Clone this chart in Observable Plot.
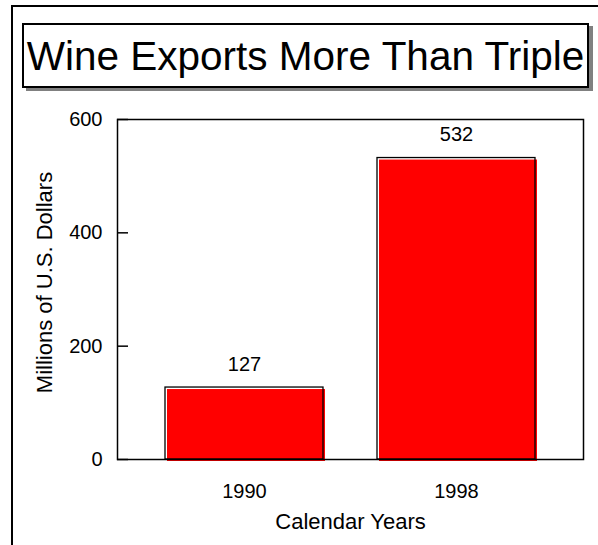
<!DOCTYPE html>
<html>
<head>
<meta charset="utf-8">
<script src="https://cdn.jsdelivr.net/npm/d3@7"></script>
<script src="https://cdn.jsdelivr.net/npm/@observablehq/plot@0.6"></script>
<style>
  html, body { margin: 0; padding: 0; background: #ffffff; }
  #wrap { position: relative; width: 598px; height: 545px; overflow: hidden; background: #fff; font-family: "Liberation Sans", Arial, sans-serif; }
  #outer { position: absolute; left: 11px; top: 5px; right: -10px; bottom: -10px; border-left: 2px solid #000; border-top: 2px solid #000; }
  #title { position: absolute; left: 22px; top: 23px; width: 567px; height: 65px; box-sizing: border-box; border: 2px solid #000; background: #fff; box-shadow: 4px 3px 0 #808080; text-align: center; white-space: nowrap; font-size: 40.5px; line-height: 62px; color: #000; margin: 0; font-weight: normal; }
  #chart { position: absolute; left: 0; top: 100px; }
</style>
</head>
<body>
<div id="wrap">
  <div id="outer"></div>
  <h1 id="title"></h1>
  <div id="chart"></div>
</div>
<script>
const years = ["1990", "1998"];
const values = [127, 532];
const yTicks = [0, 200, 400, 600];
const titleText = "Wine Exports More Than Triple";
const xLabel = "Calendar Years";
const yLabel = "Millions of U.S. Dollars";

const data = years.map((year, i) => ({year, value: values[i]}));

document.getElementById("title").textContent = titleText;

const chart = Plot.plot({
  width: 598,
  height: 445,
  marginLeft: 117,
  marginRight: 15,
  marginTop: 19,
  marginBottom: 86,
  style: {fontFamily: "'Liberation Sans', Arial, sans-serif", fontSize: "20px", color: "#000", background: "transparent", overflow: "visible"},
  x: {domain: years, paddingInner: 0.256, paddingOuter: 0.2245, label: null},
  y: {domain: [0, 600], label: null},
  marks: [
    Plot.barY(data, {x: "year", y: "value", fill: "#ff0000", dx: 2, dy: 2}),
    Plot.barY(data, {x: "year", y: "value", fill: "none", stroke: "#000", strokeWidth: 1.3}),
    Plot.frame({stroke: "#000", strokeWidth: 1.5}),
    Plot.tickY(yTicks, {y: d => d, stroke: "#000", strokeWidth: 1.5, insetRight: 455}),
    Plot.axisY({ticks: yTicks, tickSize: 0, tickPadding: 15, fontSize: 20, label: null}),
    Plot.axisX({tickSize: 0, tickPadding: 24, fontSize: 20, label: null}),
    Plot.text(data, {x: "year", y: "value", text: d => String(d.value), dy: -23, fontSize: 20}),
    Plot.text([yLabel], {text: d => d, frameAnchor: "left", textAnchor: "middle", rotate: -90, dx: -73, dy: -7, fontSize: 22}),
    Plot.text([xLabel], {text: d => d, frameAnchor: "bottom", lineAnchor: "top", dy: 54, fontSize: 22})
  ]
});
document.getElementById("chart").appendChild(chart);
</script>
</body>
</html>
